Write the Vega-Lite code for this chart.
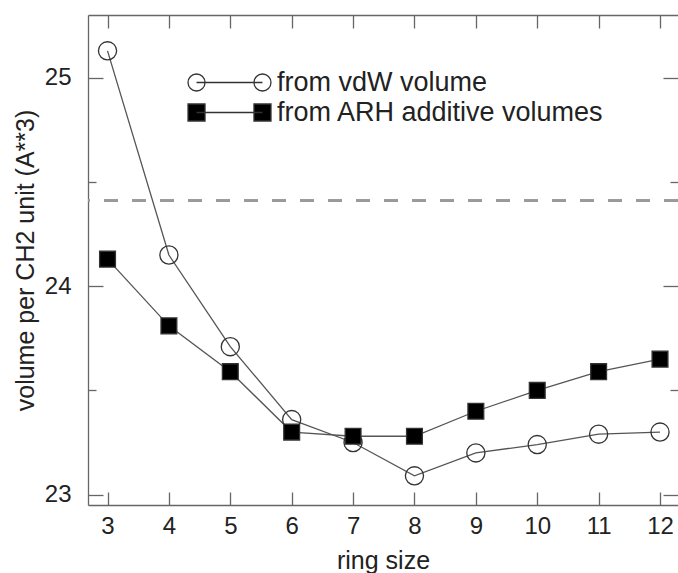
{
  "$schema": "https://vega.github.io/schema/vega-lite/v6.json",
  "width": 590,
  "height": 490,
  "padding": {"left": 88, "top": 15, "right": 0, "bottom": 68},
  "autosize": {"type": "none"},
  "background": "white",
  "config": {"view": {"stroke": null}, "font": "Liberation Sans"},
  "datasets": {
    "points": [
      {"ring": 3, "volume": 25.13, "method": "from vdW volume"},
      {"ring": 4, "volume": 24.15, "method": "from vdW volume"},
      {"ring": 5, "volume": 23.71, "method": "from vdW volume"},
      {"ring": 6, "volume": 23.36, "method": "from vdW volume"},
      {"ring": 7, "volume": 23.25, "method": "from vdW volume"},
      {"ring": 8, "volume": 23.09, "method": "from vdW volume"},
      {"ring": 9, "volume": 23.20, "method": "from vdW volume"},
      {"ring": 10, "volume": 23.24, "method": "from vdW volume"},
      {"ring": 11, "volume": 23.29, "method": "from vdW volume"},
      {"ring": 12, "volume": 23.30, "method": "from vdW volume"},
      {"ring": 3, "volume": 24.13, "method": "from ARH additive volumes"},
      {"ring": 4, "volume": 23.81, "method": "from ARH additive volumes"},
      {"ring": 5, "volume": 23.59, "method": "from ARH additive volumes"},
      {"ring": 6, "volume": 23.30, "method": "from ARH additive volumes"},
      {"ring": 7, "volume": 23.28, "method": "from ARH additive volumes"},
      {"ring": 8, "volume": 23.28, "method": "from ARH additive volumes"},
      {"ring": 9, "volume": 23.40, "method": "from ARH additive volumes"},
      {"ring": 10, "volume": 23.50, "method": "from ARH additive volumes"},
      {"ring": 11, "volume": 23.59, "method": "from ARH additive volumes"},
      {"ring": 12, "volume": 23.65, "method": "from ARH additive volumes"}
    ]
  },
  "data": {"name": "points"},
  "layer": [
    {
      "mark": {"type": "rule", "color": "#9a9a9a", "strokeWidth": 2, "strokeDash": [14, 14]},
      "encoding": {
        "y": {"datum": 24.41, "type": "quantitative", "axis": null}
      }
    },
    {
      "mark": {"type": "line", "color": "#555", "strokeWidth": 1.3},
      "encoding": {
        "x": {
          "field": "ring", "type": "quantitative",
          "scale": {"domain": [2.682, 12.293], "nice": false, "zero": false},
          "axis": {
            "orient": "bottom", "values": [3,4,5,6,7,8,9,10,11,12],
            "title": "ring size", "titleFontSize": 25, "titleFontWeight": "normal", "titleColor": "#222", "titlePadding": 10,
            "labelFontSize": 24, "labelColor": "#222", "labelPadding": 22,
            "tickSize": -13, "tickColor": "#666", "tickWidth": 1.3,
            "domainColor": "#666", "domainWidth": 1.3, "grid": false
          }
        },
        "y": {
          "field": "volume", "type": "quantitative",
          "scale": {"domain": [22.95, 25.302], "nice": false, "zero": false},
          "axis": {
            "orient": "left", "values": [23, 23.5, 24, 24.5, 25],
            "labelExpr": "datum.value % 1 === 0 ? format(datum.value, 'd') : ''",
            "title": "volume per CH2 unit (A**3)", "titleFontSize": 25, "titleFontWeight": "normal", "titleColor": "#222", "titlePadding": 6,
            "labelFontSize": 24, "labelColor": "#222", "labelPadding": 32,
            "tickSize": {"condition": {"test": "datum.value % 1 !== 0", "value": -8}, "value": -15},
            "tickColor": "#666", "tickWidth": 1.3,
            "domainColor": "#666", "domainWidth": 1.3, "grid": false
          }
        },
        "detail": {"field": "method"}
      }
    },
    {
      "mark": {"type": "point", "filled": true, "stroke": "#333", "strokeWidth": 1.3, "opacity": 1},
      "encoding": {
        "x": {
          "field": "ring", "type": "quantitative",
          "axis": {
            "orient": "top", "values": [3,4,5,6,7,8,9,10,11,12], "labels": false, "title": null,
            "tickSize": -13, "tickColor": "#666", "tickWidth": 1.3,
            "domainColor": "#666", "domainWidth": 1.3, "grid": false
          }
        },
        "y": {
          "field": "volume", "type": "quantitative",
          "axis": {
            "orient": "right", "values": [23, 23.5, 24, 24.5, 25], "labels": false, "title": null,
            "tickSize": {"condition": {"test": "datum.value % 1 !== 0", "value": -8}, "value": -15},
            "tickColor": "#666", "tickWidth": 1.3, "domain": false, "grid": false
          }
        },
        "fill": {
          "field": "method", "type": "nominal",
          "scale": {"domain": ["from ARH additive volumes", "from vdW volume"], "range": ["black", "transparent"]},
          "legend": null
        },
        "shape": {
          "field": "method", "type": "nominal",
          "scale": {"domain": ["from ARH additive volumes", "from vdW volume"], "range": ["square", "circle"]},
          "legend": null
        },
        "size": {
          "field": "method", "type": "nominal",
          "scale": {"domain": ["from ARH additive volumes", "from vdW volume"], "range": [250, 330]},
          "legend": null
        }
      }
    },
    {
      "mark": {"type": "point", "filled": true, "stroke": "#333", "strokeWidth": 1.3, "opacity": 0},
      "encoding": {
        "x": {"field": "ring", "type": "quantitative", "axis": null},
        "y": {"field": "volume", "type": "quantitative", "axis": null},
        "fill": {
          "field": "method", "type": "nominal",
          "scale": {"domain": ["from vdW volume", "from ARH additive volumes"], "range": ["transparent", "black"]},
          "legend": {
            "orient": "none", "legendX": 128, "legendY": 54, "title": null, "padding": 0,
            "symbolSize": 289, "symbolOpacity": 1, "symbolStrokeWidth": 1.3, "symbolStrokeColor": "#333",
            "labelFontSize": 27, "labelColor": "#222", "labelOffset": 34, "rowPadding": 2,
            "labelLimit": 0,
            "encode": {"symbols": {"update": {"stroke": {"value": "#333"}, "strokeWidth": {"value": 1.3}}}}
          }
        },
        "shape": {
          "field": "method", "type": "nominal",
          "scale": {"domain": ["from vdW volume", "from ARH additive volumes"], "range": ["M -2.88,0 A 1,1 0 1,1 -4.88,0 A 1,1 0 1,1 -2.88,0 M -3.88,0 L 3.88,0 M 4.88,0 A 1,1 0 1,1 2.88,0 A 1,1 0 1,1 4.88,0", "M -4.88,-1 L -2.88,-1 L -2.88,1 L -4.88,1 Z M -3.88,0 L 3.88,0 M 2.88,-1 L 4.88,-1 L 4.88,1 L 2.88,1 Z"]},
          "legend": {
            "orient": "none", "legendX": 128, "legendY": 54, "title": null, "padding": 0,
            "symbolSize": 289, "symbolOpacity": 1, "symbolStrokeWidth": 1.3, "symbolStrokeColor": "#333",
            "labelFontSize": 27, "labelColor": "#222", "labelOffset": 34, "rowPadding": 2,
            "labelLimit": 0,
            "encode": {"symbols": {"update": {"stroke": {"value": "#333"}, "strokeWidth": {"value": 1.3}}}}
          }
        }
      }
    }
  ],
  "resolve": {
    "axis": {"x": "independent", "y": "independent"},
    "scale": {"shape": "independent", "fill": "independent", "size": "independent"},
    "legend": {"shape": "independent", "fill": "independent"}
  }
}
